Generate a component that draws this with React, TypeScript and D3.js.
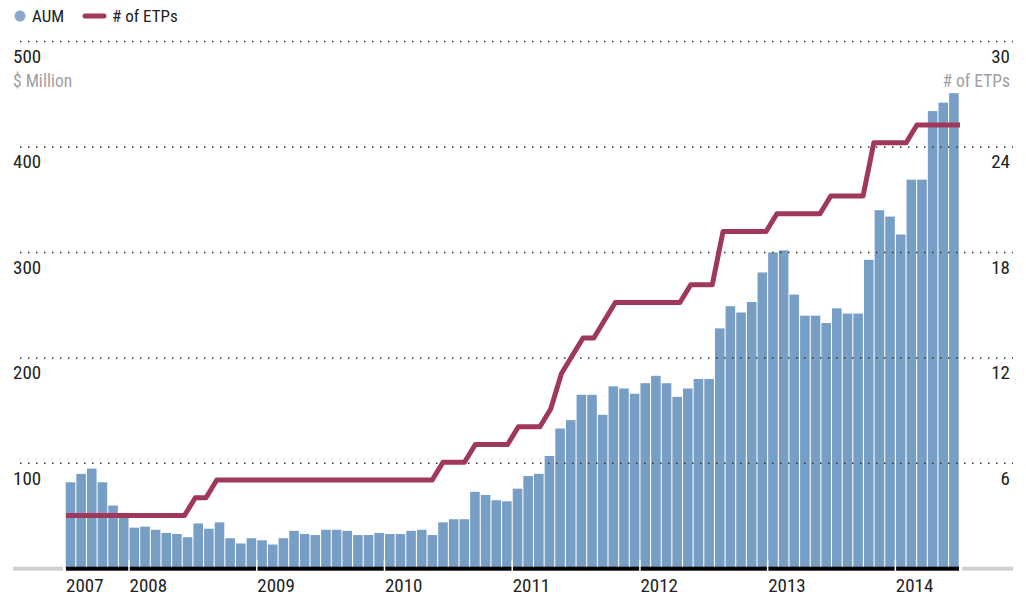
import React from 'react';
import * as d3 from 'd3';

// monthly data, Jul 2007 – Jun 2014
const aum = [
  82, 90, 95, 82, 60, 49, 39, 40, 37, 34, 33, 30, 43, 38, 44, 29, 24, 29, 27, 23,
  29, 36, 33, 32, 37, 37, 36, 32, 32, 34, 33, 33, 36, 37, 32, 44, 47, 47, 73, 70,
  65, 64, 76, 88, 90, 107, 133, 141, 165, 165, 146, 173, 171, 166, 176, 183, 176, 163, 171, 180,
  180, 228, 249, 243, 253, 281, 300, 302, 260, 240, 240, 233, 247, 242, 242, 293, 340, 334, 317, 369,
  369, 434, 442, 451,
];
const etps = [
  3, 3, 3, 3, 3, 3, 3, 3, 3, 3, 3, 3, 4, 4, 5, 5, 5, 5, 5, 5,
  5, 5, 5, 5, 5, 5, 5, 5, 5, 5, 5, 5, 5, 5, 5, 6, 6, 6, 7, 7,
  7, 7, 8, 8, 8, 9, 11, 12, 13, 13, 14, 15, 15, 15, 15, 15, 15, 15, 16, 16,
  16, 19, 19, 19, 19, 19, 20, 20, 20, 20, 20, 21, 21, 21, 21, 24, 24, 24, 24, 25,
  25, 25, 25, 25,
];
const leftTicks = [100, 200, 300, 400, 500];
const rightTicks = [6, 12, 18, 24, 30];
const years = [2007, 2008, 2009, 2010, 2011, 2012, 2013, 2014];

const BAR = '#779ec4';
const LINE = '#a0385c';
const FONT = "'Liberation Sans Narrow', 'Roboto Condensed', 'DejaVu Sans Condensed', Roboto, sans-serif";

export default function App() {
  const W = 1026, H = 599;
  const months = d3.timeMonth.range(new Date(2007, 6, 1), new Date(2014, 6, 1));
  const x = d3.scaleBand<Date>().domain(months).range([65.7, 958.7]).paddingInner(0.1).paddingOuter(0);
  const xl = d3.scalePoint<Date>().domain(months).range([66, 960]);
  const y = d3.scaleLinear().domain([0, 500]).range([568.8, 41.5]);
  const y2 = d3.scaleLinear().domain([0, 29.7]).range([568.8, 41.5]);
  const gap = x.step() - x.bandwidth();

  const line = d3.line<number>()
    .x((_, i) => xl(months[i]) as number)
    .y(d => y2(d));

  const yearX = (yr: number) => {
    const v = x(new Date(yr, 0, 1));
    return v === undefined ? 66 : v - gap / 2;
  };

  return (
    <svg width={W} height={H} style={{ position: 'absolute', left: 0, top: 0, fontFamily: FONT }}>
      {/* legend */}
      <circle cx={20} cy={16} r={5.5} fill="#8aa8c9" />
      <text x={32} y={22} fontSize={17} fill="#222">AUM</text>
      <line x1={85} x2={104} y1={16} y2={16} stroke={LINE} strokeWidth={5} strokeLinecap="round" />
      <text x={112} y={22} fontSize={17} fill="#222">
        # of ETPs
      </text>

      {/* bars */}
      {aum.map((v, i) => (
        <rect key={i} x={x(months[i])} width={x.bandwidth()} y={y(v)} height={y(0) - y(v)} fill={BAR} />
      ))}

      {/* grid */}
      {leftTicks.map((t, i) => (
        <g key={t}>
          <line x1={20} x2={1013} y1={y(t)} y2={y(t)} stroke="#333" strokeWidth={1.5} strokeDasharray="1.5 6.5" />
          <text x={13} y={y(t) + 21.5} fontSize={19} fill="#222">{t}</text>
          <text x={1010} y={y(t) + 21.5} fontSize={19} fill="#222" textAnchor="end">{rightTicks[i]}</text>
        </g>
      ))}
      <text x={13} y={87} fontSize={17.5} fill="#a0a0a0">$ Million</text>
      <text x={1010} y={87} fontSize={17.5} fill="#a0a0a0" textAnchor="end"># of ETPs</text>

      {/* baseline */}
      <rect x={13} y={566.7} width={50} height={4} fill="#d0d0d0" />
      <rect x={962} y={566.7} width={51} height={4} fill="#d0d0d0" />
      <rect x={66} y={566.7} width={893} height={4} fill="#000" />
      {years.slice(1).map(yr => (
        <line key={yr} x1={yearX(yr)} x2={yearX(yr)} y1={560} y2={571} stroke="#fff" strokeWidth={1.5} />
      ))}
      {years.map(yr => (
        <text key={yr} x={yearX(yr) + (yr === 2007 ? 0 : 0.5)} y={592} fontSize={19} fill="#222">{yr}</text>
      ))}

      {/* ETP line */}
      <path d={line(etps) || ''} fill="none" stroke={LINE} strokeWidth={5} strokeLinejoin="round" />
    </svg>
  );
}
